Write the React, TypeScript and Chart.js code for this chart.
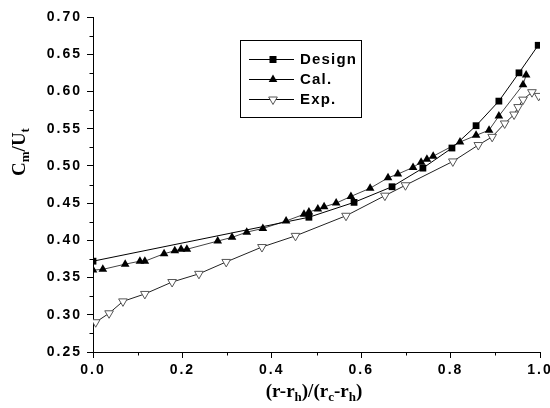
import React, { useEffect, useRef } from 'react';
import { Chart, registerables } from 'chart.js';
Chart.register(...registerables);

// ---- data ----
const designX = [0.0, 0.483, 0.584, 0.669, 0.738, 0.803, 0.857, 0.908, 0.953, 0.996];
const designY = [0.372, 0.431, 0.451, 0.472, 0.497, 0.524, 0.554, 0.587, 0.625, 0.662];

const calX = [0.0, 0.022, 0.072, 0.105, 0.116, 0.159, 0.183, 0.197, 0.21, 0.279, 0.311, 0.344, 0.38, 0.432, 0.472, 0.483, 0.503, 0.517, 0.544, 0.577, 0.62, 0.66, 0.682, 0.716, 0.734, 0.747, 0.761, 0.821, 0.857, 0.886, 0.908, 0.962, 0.969];
const calY = [0.36, 0.361, 0.368, 0.372, 0.372, 0.382, 0.386, 0.388, 0.388, 0.399, 0.404, 0.411, 0.416, 0.426, 0.435, 0.438, 0.442, 0.445, 0.45, 0.459, 0.47, 0.484, 0.489, 0.498, 0.505, 0.509, 0.513, 0.532, 0.541, 0.548, 0.567, 0.609, 0.622];

const expX = [0.006, 0.036, 0.067, 0.116, 0.177, 0.237, 0.298, 0.378, 0.453, 0.566, 0.653, 0.699, 0.805, 0.862, 0.893, 0.921, 0.942, 0.951, 0.962, 0.982, 0.997];
const expY = [0.29, 0.302, 0.318, 0.328, 0.344, 0.355, 0.371, 0.391, 0.406, 0.433, 0.46, 0.474, 0.506, 0.528, 0.539, 0.557, 0.569, 0.579, 0.589, 0.599, 0.594];

const seriesLabels = ['Design', 'Cal.', 'Exp.'];

const xTickValues = [0.0, 0.2, 0.4, 0.6, 0.8, 1.0];
const xMinorValues = [0.1, 0.3, 0.5, 0.7, 0.9];
const yTickValues = [0.25, 0.3, 0.35, 0.4, 0.45, 0.5, 0.55, 0.6, 0.65, 0.7];
const yMinorValues = [0.275, 0.325, 0.375, 0.425, 0.475, 0.525, 0.575, 0.625, 0.675];

type Part = { t: string; sub?: boolean };
const xTitleParts: Part[] = [
  { t: '(r-r' }, { t: 'h', sub: true }, { t: ')/(r' }, { t: 'c', sub: true }, { t: '-r' }, { t: 'h', sub: true }, { t: ')' },
];
const yTitleParts: Part[] = [
  { t: 'C' }, { t: 'm', sub: true }, { t: '/U' }, { t: 't', sub: true },
];

const MAIN_FONT = 'bold 19px "Liberation Serif", "Times New Roman", serif';
const SUB_FONT = 'bold 13px "Liberation Serif", "Times New Roman", serif';

function drawParts(ctx: CanvasRenderingContext2D, parts: Part[], cx: number, baseline: number) {
  let total = 0;
  const widths = parts.map((p) => {
    ctx.font = p.sub ? SUB_FONT : MAIN_FONT;
    const w = ctx.measureText(p.t).width;
    total += w;
    return w;
  });
  let x = cx - total / 2;
  ctx.textAlign = 'left';
  ctx.textBaseline = 'alphabetic';
  parts.forEach((p, i) => {
    ctx.font = p.sub ? SUB_FONT : MAIN_FONT;
    ctx.fillText(p.t, x, baseline + (p.sub ? 4 : 0));
    x += widths[i];
  });
}

function drawMarker(ctx: CanvasRenderingContext2D, kind: number, x: number, y: number) {
  ctx.beginPath();
  if (kind === 0) {
    ctx.rect(x - 3.5, y - 3.5, 7, 7);
    ctx.fillStyle = '#000';
    ctx.fill();
  } else if (kind === 1) {
    const r = 5;
    ctx.moveTo(x, y - r);
    ctx.lineTo(x + r * 0.866, y + r * 0.5);
    ctx.lineTo(x - r * 0.866, y + r * 0.5);
    ctx.closePath();
    ctx.fillStyle = '#000';
    ctx.fill();
  } else {
    const r = 5;
    ctx.moveTo(x, y + r);
    ctx.lineTo(x + r * 0.866, y - r * 0.5);
    ctx.lineTo(x - r * 0.866, y - r * 0.5);
    ctx.closePath();
    ctx.fillStyle = '#fff';
    ctx.fill();
    ctx.strokeStyle = '#555';
    ctx.lineWidth = 1;
    ctx.stroke();
  }
}

const decorPlugin = {
  id: 'decor',
  beforeDraw(chart: any) {
    (chart.ctx as any).letterSpacing = '2px';
  },
  afterDraw(chart: any) {
    const ctx: CanvasRenderingContext2D = chart.ctx;
    ctx.save();
    (ctx as any).letterSpacing = '0px';
    const xs = chart.scales.x;
    const ys = chart.scales.y;
    const { left, bottom } = chart.chartArea;
    // minor ticks
    ctx.strokeStyle = '#000';
    ctx.lineWidth = 1;
    ctx.beginPath();
    xMinorValues.forEach((v) => {
      const px = Math.round(xs.getPixelForValue(v)) + 0.5;
      ctx.moveTo(px, bottom);
      ctx.lineTo(px, bottom + 3.5);
    });
    yMinorValues.forEach((v) => {
      const py = Math.round(ys.getPixelForValue(v)) + 0.5;
      ctx.moveTo(left, py);
      ctx.lineTo(left - 3.5, py);
    });
    ctx.stroke();

    // legend
    ctx.strokeStyle = '#000';
    ctx.lineWidth = 1;
    ctx.strokeRect(240.5, 40.5, 121, 77);
    const rows = [59, 79, 99];
    chart.data.datasets.forEach((ds: any, i: number) => {
      const y = rows[i] + 0.5;
      ctx.beginPath();
      ctx.strokeStyle = '#000';
      ctx.lineWidth = 1;
      ctx.moveTo(249, y);
      ctx.lineTo(294, y);
      ctx.stroke();
      drawMarker(ctx, i, 273, y);
      ctx.fillStyle = '#000';
      (ctx as any).letterSpacing = '1.2px';
      ctx.font = 'bold 15px "Liberation Sans", Arial, sans-serif';
      ctx.textAlign = 'left';
      ctx.textBaseline = 'middle';
      ctx.fillText(ds.label, 300, rows[i] + 1);
      (ctx as any).letterSpacing = '0px';
    });

    // axis titles
    ctx.fillStyle = '#000';
    drawParts(ctx, xTitleParts, 314, 397);
    ctx.save();
    ctx.translate(25, 152);
    ctx.rotate(-Math.PI / 2);
    drawParts(ctx, yTitleParts, 0, 0);
    ctx.restore();
    ctx.restore();
  },
};

export default function App() {
  const ref = useRef<HTMLCanvasElement | null>(null);
  useEffect(() => {
    document.body.style.margin = '0';
    const canvas = ref.current;
    if (!canvas) return;
    const mk = (xs: number[], ys: number[]) => xs.map((x, i) => ({ x, y: ys[i] }));
    const tickFont = { family: '"Liberation Sans", Arial, sans-serif', size: 14, weight: 'bold' as const };
    const chart = new Chart(canvas, {
      type: 'scatter',
      data: {
        datasets: [
          {
            label: seriesLabels[0],
            data: mk(designX, designY),
            showLine: true,
            borderColor: '#000',
            borderWidth: 1,
            pointStyle: 'rect',
            pointRadius: 4.8,
            pointBackgroundColor: '#000',
            pointBorderColor: '#000',
            pointBorderWidth: 0,
          },
          {
            label: seriesLabels[1],
            data: mk(calX, calY),
            showLine: true,
            borderColor: '#444',
            borderWidth: 1,
            pointStyle: 'triangle',
            pointRadius: 5,
            pointBackgroundColor: '#000',
            pointBorderColor: '#000',
            pointBorderWidth: 0,
          },
          {
            label: seriesLabels[2],
            data: mk(expX, expY),
            showLine: true,
            borderColor: '#222',
            borderWidth: 1,
            pointStyle: 'triangle',
            pointRotation: 180,
            pointRadius: 5,
            pointBackgroundColor: '#fff',
            pointBorderColor: '#555',
            pointBorderWidth: 1,
          },
        ],
      },
      options: {
        animation: false,
        responsive: false,
        devicePixelRatio: 1,
        layout: { padding: { top: 17, right: 10, left: 0, bottom: 0 } },
        plugins: { legend: { display: false }, tooltip: { enabled: false } },
        scales: {
          x: {
            type: 'linear',
            min: 0,
            max: 1,
            afterBuildTicks: (s: any) => {
              s.ticks = xTickValues.map((v) => ({ value: v }));
            },
            afterFit: (s: any) => {
              s.height = 56;
              s.paddingLeft = 0;
              s.paddingRight = 0;
            },
            grid: { drawOnChartArea: false, drawTicks: true, tickLength: 6, color: '#000', lineWidth: 1 },
            border: { display: true, color: '#000', width: 1 },
            ticks: {
              color: '#000',
              font: tickFont,
              padding: 4,
              maxRotation: 0,
              autoSkip: false,
              callback: (v: any) => Number(v).toFixed(1),
            },
          },
          y: {
            type: 'linear',
            min: 0.25,
            max: 0.7,
            afterBuildTicks: (s: any) => {
              s.ticks = yTickValues.map((v) => ({ value: v }));
            },
            afterFit: (s: any) => {
              s.width = 93;
              s.paddingTop = 0;
              s.paddingBottom = 0;
            },
            grid: { drawOnChartArea: false, drawTicks: true, tickLength: 6, color: '#000', lineWidth: 1 },
            border: { display: true, color: '#000', width: 1 },
            ticks: {
              color: '#000',
              font: tickFont,
              padding: 5,
              autoSkip: false,
              callback: (v: any) => Number(v).toFixed(2),
            },
          },
        },
      },
      plugins: [decorPlugin],
    } as any);
    return () => chart.destroy();
  }, []);
  return (
    <div style={{ width: 550, height: 408 }}>
      <canvas ref={ref} width={550} height={408} style={{ display: 'block' }} />
    </div>
  );
}
